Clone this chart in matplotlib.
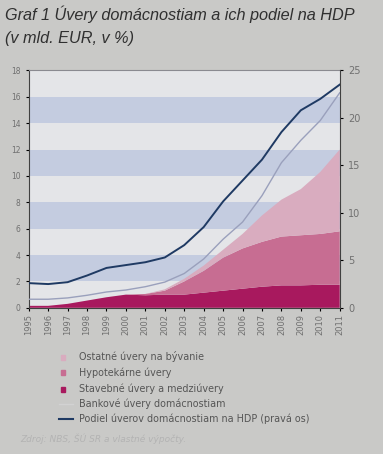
import numpy as np
import matplotlib.pyplot as plt

# roky (hodnoty odčítané z grafu)
years = [1995, 1996, 1997, 1998, 1999, 2000, 2001, 2002, 2003,
         2004, 2005, 2006, 2007, 2008, 2009, 2010, 2011]

# mld. EUR (ľavá os)
stavebne = [0.15, 0.15, 0.3, 0.55, 0.8, 1.0, 0.95, 1.0, 1.0,
            1.15, 1.3, 1.45, 1.6, 1.7, 1.7, 1.75, 1.75]
hypotekarne = [0.0, 0.0, 0.0, 0.0, 0.0, 0.0, 0.1, 0.3, 1.0,
               1.65, 2.5, 3.05, 3.4, 3.7, 3.8, 3.85, 4.05]
ostatne = [0.0, 0.0, 0.0, 0.0, 0.0, 0.0, 0.0, 0.1, 0.2,
           0.4, 0.6, 1.1, 2.0, 2.8, 3.5, 4.7, 6.2]
bankove = [0.65, 0.65, 0.75, 0.95, 1.2, 1.35, 1.6, 1.95, 2.6,
           3.7, 5.2, 6.5, 8.5, 11.0, 12.7, 14.2, 16.3]
# % HDP (pravá os)
podiel = [2.6, 2.5, 2.7, 3.4, 4.2, 4.5, 4.8, 5.3, 6.6,
          8.5, 11.2, 13.4, 15.6, 18.5, 20.8, 22.0, 23.5]

labels = ['Ostatné úvery na bývanie', 'Hypotekárne úvery',
          'Stavebné úvery a medziúvery', 'Bankové úvery domácnostiam',
          'Podiel úverov domácnostiam na HDP (pravá os)']

c_stav = '#a8195e'
c_hyp = '#c76d92'
c_ost = '#d9acbf'
c_bank = '#9aa0bc'
c_pod = '#1f3a63'
bg = '#c9c9c7'

fig = plt.figure(figsize=(3.83, 4.54), dpi=100, facecolor=bg)
ax = fig.add_axes([0.075, 0.322, 0.812, 0.523])
ax.set_facecolor('#e4e5e8')

for lo in [2, 6, 10, 14]:
    ax.axhspan(lo, lo + 2, color='#c4cce0', lw=0, zorder=0)

ax.stackplot(years, stavebne, hypotekarne, ostatne,
             colors=[c_stav, c_hyp, c_ost], lw=0, zorder=2)
ax.plot(years, bankove, color=c_bank, lw=1.0, zorder=3)

ax.set_xlim(1995, 2011)
ax.set_ylim(0, 18)
ax.set_yticks(range(0, 19, 2))
ax.set_xticks(years)
ax.set_xticklabels([str(y) for y in years], rotation=90, fontsize=6, color='#707070')
ax.tick_params(axis='y', labelsize=5.5, labelcolor='#707070', length=2.5, direction='out')
ax.tick_params(axis='x', length=2.5, pad=2)
ax.spines['top'].set_color('#8a8a90')
ax.spines['right'].set_visible(False)
ax.spines['left'].set_color('#404040')
ax.spines['bottom'].set_color('#404040')

ax2 = ax.twinx()
ax2.plot(years, podiel, color=c_pod, lw=1.4, zorder=4)
ax2.set_ylim(0, 25)
ax2.set_yticks([0, 5, 10, 15, 20, 25])
ax2.tick_params(axis='y', labelsize=7, labelcolor='#707070', length=2.5)
ax2.spines['right'].set_color('#404040')
for s in ['top', 'left', 'bottom']:
    ax2.spines[s].set_visible(False)

fig.text(0.013, 0.955, 'Graf 1 Úvery domácnostiam a ich podiel na HDP',
         fontsize=11.7, style='italic', family='Liberation Sans', color='#303030')
fig.text(0.013, 0.905, '(v mld. EUR, v %)',
         fontsize=11.7, style='italic', family='Liberation Sans', color='#303030')

# legenda
leg_y = [0.214, 0.179, 0.143, 0.110, 0.077]
for i, txt in enumerate(labels):
    fig.text(0.207, leg_y[i], txt, fontsize=6.9, color='#555555', va='center')
mk = [c_ost, c_hyp, c_stav]
for i in range(3):
    fig.patches.append(plt.Rectangle((0.158, leg_y[i] - 0.006), 0.013, 0.011,
                                     transform=fig.transFigure, color=mk[i], figure=fig))
fig.lines.append(plt.Line2D([0.155, 0.19], [leg_y[3], leg_y[3]], transform=fig.transFigure,
                            color='#d2d2d2', lw=1))
fig.lines.append(plt.Line2D([0.155, 0.19], [leg_y[4], leg_y[4]], transform=fig.transFigure,
                            color=c_pod, lw=1.5))

fig.text(0.052, 0.033, 'Zdroj: NBS, ŠÚ SR a vlastné výpočty.', fontsize=6.5,
         style='italic', color='#b3b3b3', va='center')

fig.savefig('out.png', dpi=100, facecolor=bg)
